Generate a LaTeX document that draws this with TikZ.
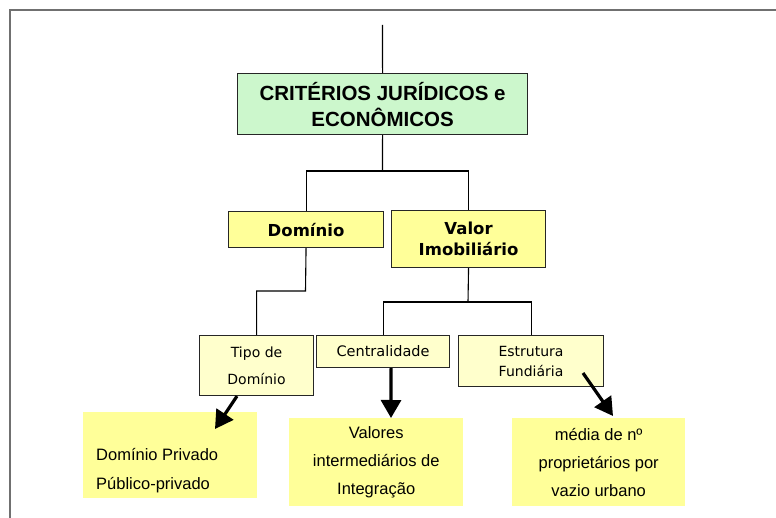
\documentclass[tikz,border=0pt]{standalone}
\usepackage{fontspec}
\setmainfont{Liberation Sans}
\newfontfamily\dvs{DejaVu Sans}
\usetikzlibrary{arrows.meta,calc}
\definecolor{boxgreen}{HTML}{CCF7CC}
\definecolor{boxyel}{HTML}{FFFF99}
\definecolor{boxpale}{HTML}{FFFFCC}
\definecolor{bottomyel}{HTML}{FFFF99}
\definecolor{framegray}{HTML}{707070}
\tikzset{
  box/.style={draw=black!85, line width=1.1pt, inner sep=0pt, anchor=north west, align=center},
  critbox/.style={box, fill=boxgreen, font=\fontsize{20.5}{26}\selectfont\bfseries},
  midbox/.style={box, fill=boxyel, font=\dvs\bfseries\fontsize{16.5}{21}\selectfont},
  smallbox/.style={box, fill=boxpale, font=\dvs\fontsize{14}{20}\selectfont},
  resbox/.style={inner sep=0pt, anchor=north west, fill=bottomyel, align=center, font=\fontsize{16.5}{28}\selectfont},
  link/.style={draw=black, line width=1.1pt},
  bigarrow/.style={draw=black, line width=3.2pt, -{Triangle[length=18pt,width=20pt]}}
}
\begin{document}
\begin{tikzpicture}[x=1pt,y=-1pt]
\useasboundingbox (0,0) rectangle (776,518);
\fill[white] (0,0) rectangle (776,518);
\draw[framegray, line width=2pt] (10,518) -- (10,10) -- (776,10);

\node[critbox, minimum width=290pt, minimum height=61pt] (crit) at (237,73) {CRITÉRIOS JURÍDICOS e\\ECONÔMICOS};
\node[midbox, minimum width=155pt, minimum height=36pt] (dom) at (228,211) {Domínio};
\node[midbox, minimum width=154pt, minimum height=57pt] (val) at (391,210) {Valor\\Imobiliário};
\node[smallbox, minimum width=114pt, minimum height=60pt, font=\dvs\fontsize{14}{27}\selectfont] (tipo) at (199,335) {Tipo de\\Domínio};
\node[smallbox, minimum width=133pt, minimum height=32pt, font=\dvs\fontsize{14.5}{20}\selectfont] (cent) at (316,335) {Centralidade};
\node[smallbox, minimum width=145pt, minimum height=51pt] (estr) at (458,335) {Estrutura\\Fundiária};

\node[resbox, minimum width=174pt, minimum height=86pt] (dpriv) at (83,412) {};
\node[anchor=west, inner sep=0pt, align=left, font=\fontsize{16.5}{29}\selectfont] (dprivtxt) at (96,470.5) {Domínio Privado\\Público-privado};
\node[resbox, minimum width=174pt, minimum height=88pt] (vals) at (289,418) {Valores\\intermediários de\\Integração};
\node[resbox, minimum width=173pt, minimum height=88pt] (media) at (512,418) {média de nº\\proprietários por\\vazio urbano};

% connectors
\coordinate (top) at (382.5,25);
\coordinate (j1) at (382.5,171);
\coordinate (j2) at (305.5,291);
\coordinate (j3) at (468,302);
\draw[link] (top) -- (crit.north);
\draw[link] (crit.south) -- (j1);
\draw[link] (dom.north) |- (j1) -| (val.north);
\draw[link] (dom.south) -- (j2) -| (tipo.north);
\draw[link] (val.south) -- (j3);
\draw[link] (cent.north) |- (j3) -| (estr.north);

% arrows
\coordinate (a1s) at ($(tipo.south west)!0.33!(tipo.south east)$);
\coordinate (a1e) at (215,429);
\coordinate (a2s) at ($(cent.south west)!0.56!(cent.south east)$);
\coordinate (a2e) at (391,418);
\coordinate (a3s) at (583,373);
\coordinate (a3e) at (613,416);
\draw[bigarrow] (a1s) -- (a1e);
\draw[bigarrow] (a2s) -- (a2e);
\draw[bigarrow] (a3s) -- (a3e);
\end{tikzpicture}
\end{document}
